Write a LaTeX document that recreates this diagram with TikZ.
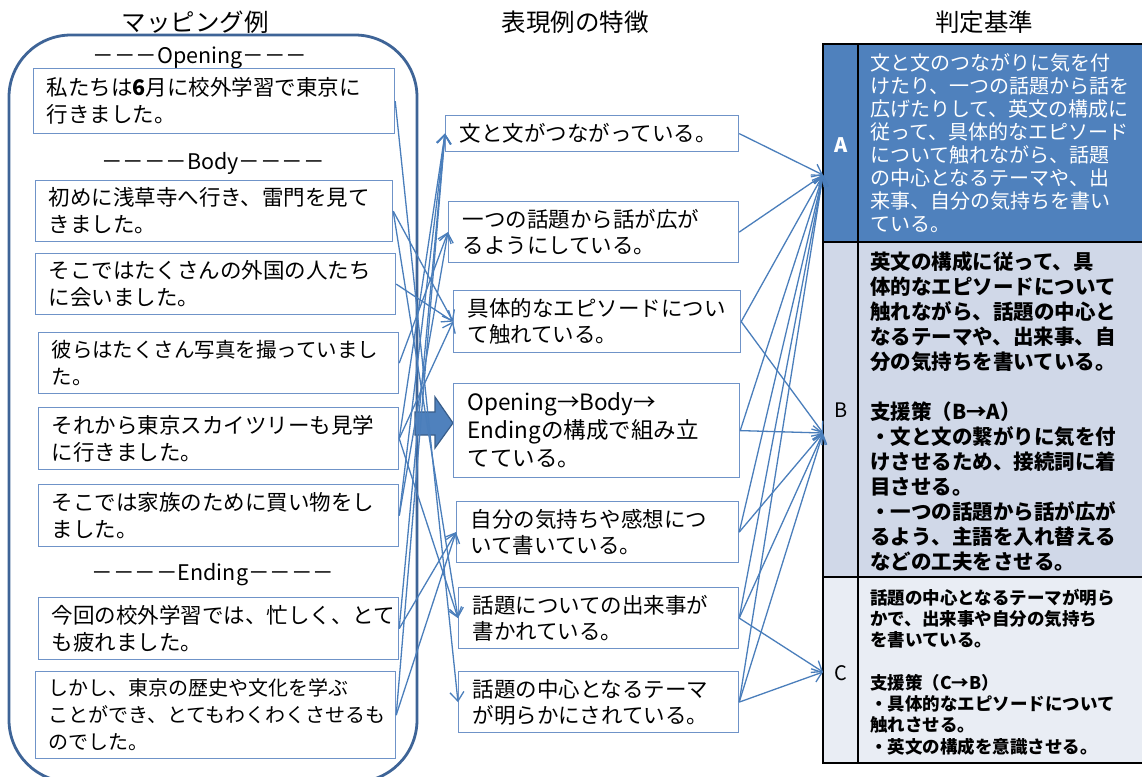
\documentclass[tikz,border=0pt]{standalone}
\usepackage{fontspec}
\setmainfont{Noto Sans CJK JP}
\usetikzlibrary{arrows.meta}
\definecolor{boxc}{HTML}{6F93C8}
\definecolor{linec}{HTML}{4A7EBB}
\definecolor{framec}{HTML}{3E6497}
\definecolor{arrfill}{HTML}{4F81BD}
\definecolor{arrdraw}{HTML}{385D8A}
\definecolor{Afill}{HTML}{4F81BD}
\definecolor{Bfill}{HTML}{D0D8E8}
\definecolor{Cfill}{HTML}{E9EDF4}
\tikzset{
  lbox/.style={draw=boxc, line width=1.2pt, fill=white, anchor=north west,
    inner xsep=13pt, inner ysep=0pt, align=left, font=\fontsize{21.5}{27}\selectfont},
  mbox/.style={draw=boxc, line width=1.2pt, fill=white, anchor=north west,
    inner xsep=14pt, inner ysep=0pt, align=left, font=\fontsize{21.5}{26}\selectfont},
  title/.style={font=\fontsize{24.5}{28}\selectfont, inner sep=0pt},
  header/.style={font=\fontsize{21.5}{26}\selectfont, inner sep=0pt},
  conn/.style={draw=linec, line width=1.3pt, -{Straight Barb[length=9pt,width=14pt,line width=1.3pt]}},
  celltext/.style={anchor=west, align=left, inner sep=0pt},
}
\begin{document}
\begin{tikzpicture}[x=1pt,y=-1pt]
\useasboundingbox (0,0) rectangle (1142,776);
\fill[white] (0,0) rectangle (1142,776);

% titles
\node[title] (t1) at (195,22) {マッピング例};
\node[title] (t2) at (575,22) {表現例の特徴};
\node[title] (t3) at (984,22) {判定基準};

% rounded frame
\draw[framec, line width=2.8pt, rounded corners=62pt] (9,35) rectangle (417,782);

% headers
\node[header] (h1) at (200,58) {－－－Opening－－－};
\node[header] (h2) at (213,163) {－－－－Body－－－－};
\node[header] (h3) at (213,575) {－－－－Ending－－－－};

% left boxes
\node[lbox, text width=335pt, minimum height=65pt] (b1) at (33,68) {私たちは{\bfseries 6}月に校外学習で東京に\\行きました。};
\node[lbox, text width=331pt, minimum height=61pt] (b2) at (35,180) {初めに浅草寺へ行き、雷門を見て\\きました。};
\node[lbox, text width=334pt, minimum height=61pt] (b3) at (35,253) {そこではたくさんの外国の人たち\\に会いました。};
\node[lbox, text width=334pt, minimum height=61pt, font=\fontsize{20.5}{27}\selectfont] (b4) at (38,332) {彼らはたくさん写真を撮っていまし\\た。};
\node[lbox, text width=334pt, minimum height=62pt] (b5) at (38,407) {それから東京スカイツリーも見学\\に行きました。};
\node[lbox, text width=334pt, minimum height=62pt] (b6) at (38,484) {そこでは家族のために買い物をし\\ました。};
\node[lbox, text width=334pt, minimum height=62pt] (b7) at (38,597) {今回の校外学習では、忙しく、とて\\も疲れました。};
\node[lbox, text width=334pt, minimum height=87pt, font=\fontsize{20}{27}\selectfont] (b8) at (35,671) {しかし、東京の歴史や文化を学ぶ\\ことができ、とてもわくわくさせるも\\のでした。};

% block arrow
\draw[arrdraw, fill=arrfill, line width=1.2pt] (415,412) -- (435,412) -- (435,397) -- (453,423) -- (435,448) -- (435,435) -- (415,435) -- cycle;

% middle boxes
\node[mbox, text width=265pt, minimum height=36pt] (m1) at (445,115) {文と文がつながっている。};
\node[mbox, text width=262pt, minimum height=61pt] (m2) at (448,201) {一つの話題から話が広が\\るようにしている。};
\node[mbox, text width=259pt, minimum height=62pt] (m3) at (453,290) {具体的なエピソードについ\\て触れている。};
\node[mbox, text width=258pt, minimum height=94pt, font=\fontsize{22.5}{28}\selectfont] (m4) at (453,383) {Opening→Body→\\Endingの構成で組み立\\てている。};
\node[mbox, text width=254pt, minimum height=61pt] (m5) at (456,501) {自分の気持ちや感想につ\\いて書いている。};
\node[mbox, text width=252pt, minimum height=61pt] (m6) at (458,587) {話題についての出来事が\\書かれている。};
\node[mbox, text width=252pt, minimum height=61pt] (m7) at (458,671) {話題の中心となるテーマ\\が明らかにされている。};

% table
\fill[Afill] (823,44) rectangle (1143,242);
\fill[Bfill] (823,242) rectangle (1143,577);
\fill[Cfill] (823,577) rectangle (1143,763);
\draw[black, line width=1.3pt] (823,44) rectangle (1143,763);
\draw[black, line width=1.3pt] (823,242) -- (1143,242);
\draw[black, line width=1.3pt] (823,577) -- (1143,577);
\draw[black, line width=1.3pt] (858,44) -- (858,763);

\node[font=\fontsize{20}{24}\selectfont\bfseries, text=white, inner sep=0pt] (la) at (841,145) {A};
\node[font=\fontsize{20}{24}\selectfont, inner sep=0pt] (lb) at (841,410) {B};
\node[font=\fontsize{20}{24}\selectfont, inner sep=0pt] (lc) at (841,673) {C};

\node[celltext, text=white, font=\fontsize{20}{23}\selectfont] (ta) at (870,143) {文と文のつながりに気を付\\けたり、一つの話題から話を\\広げたりして、英文の構成に\\従って、具体的なエピソード\\について触れながら、話題\\の中心となるテーマや、出\\来事、自分の気持ちを書い\\ている。};
\node[celltext, font=\fontsize{20.5}{25}\selectfont\bfseries] (tb) at (870,412) {英文の構成に従って、具\\体的なエピソードについて\\触れながら、話題の中心と\\なるテーマや、出来事、自\\分の気持ちを書いている。\\[25pt]支援策（B→A）\\・文と文の繋がりに気を付\\けさせるため、接続詞に着\\目させる。\\・一つの話題から話が広が\\るよう、主語を入れ替える\\などの工夫をさせる。};
\node[celltext, font=\fontsize{17.5}{21.3}\selectfont\bfseries] (tc) at (870,672) {話題の中心となるテーマが明ら\\かで、出来事や自分の気持ち\\を書いている。\\[21.3pt]支援策（C→B）\\・具体的なエピソードについて\\触れさせる。\\・英文の構成を意識させる。};

\coordinate (tA) at (823,175);
\coordinate (tB) at (823,433);
\coordinate (tC) at (823,672);

% left -> middle connectors
\draw[conn] (b1.east) -- (m7.west);
\draw[conn] (b2.east) -- (m3.west);
\draw[conn] (b2.east) -- (m6.west);
\draw[conn] (b3.east) -- (m3.west);
\draw[conn] (b4.east) -- (m2.west);
\draw[conn] (b5.east) -- (m1.west);
\draw[conn] (b5.east) -- (m3.west);
\draw[conn] (b5.east) -- (m6.west);
\draw[conn] (b6.east) -- (m1.west);
\draw[conn] (b6.east) -- (m2.west);
\draw[conn] (b7.east) -- (m1.west);
\draw[conn] (b7.east) -- (m5.west);
\draw[conn] (b8.east) -- (m1.west);
\draw[conn] (b8.east) -- (m5.west);

% middle -> table connectors
\draw[conn] (m1.east) -- (tA);
\draw[conn] (m2.east) -- (tA);
\draw[conn] (m3.east) -- (tA);
\draw[conn] (m3.east) -- (tB);
\draw[conn] (m4.east) -- (tA);
\draw[conn] (m4.east) -- (tB);
\draw[conn] (m5.east) -- (tA);
\draw[conn] (m5.east) -- (tB);
\draw[conn] (m6.east) -- (tA);
\draw[conn] (m6.east) -- (tB);
\draw[conn] (m6.east) -- (tC);
\draw[conn] (m7.east) -- (tA);
\draw[conn] (m7.east) -- (tB);
\draw[conn] (m7.east) -- (tC);
\end{tikzpicture}
\end{document}
